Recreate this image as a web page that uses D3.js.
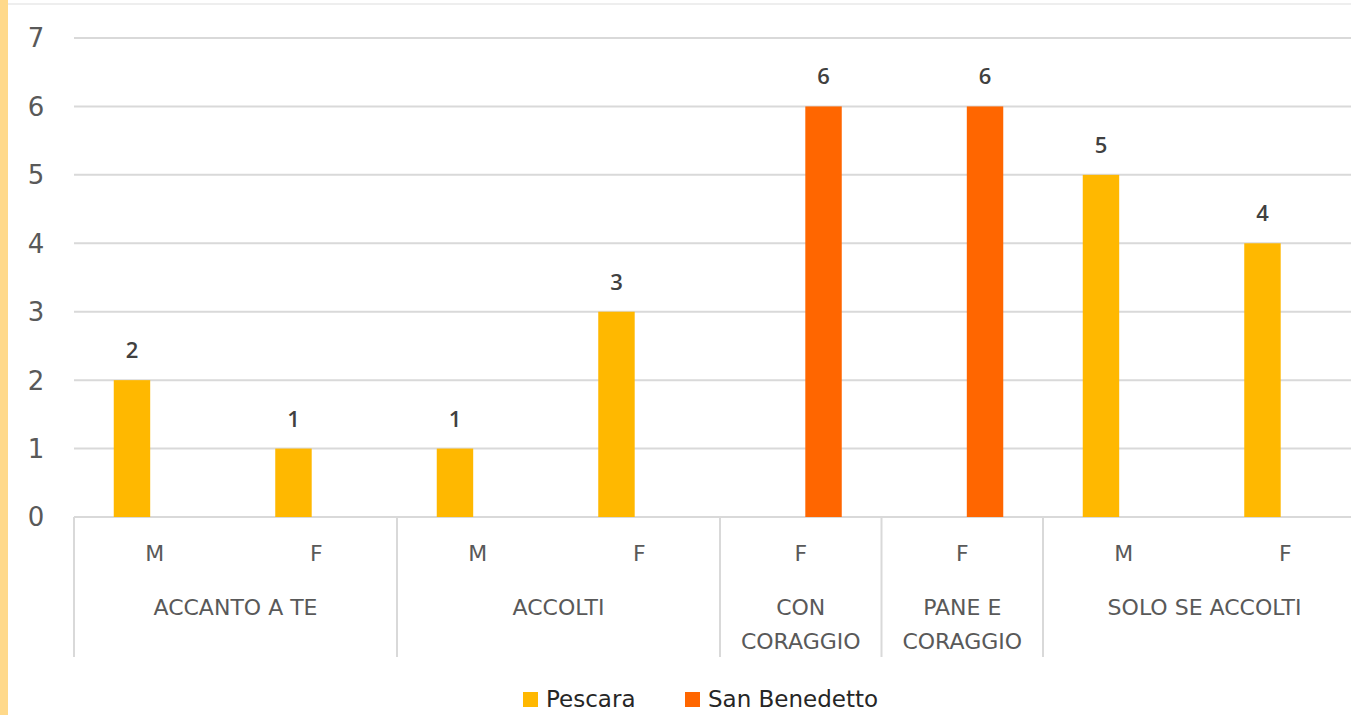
<!DOCTYPE html>
<html>
<head>
<meta charset="utf-8">
<script src="https://cdn.jsdelivr.net/npm/d3@7"></script>
<style>
  body { margin: 0; background: #fff; overflow: hidden; }
  svg { display: block; }
</style>
</head>
<body>
<script>
// data
const leafLabels = ["M", "F", "M", "F", "F", "F", "M", "F"];
const groups = [
  {name: ["ACCANTO A TE"], size: 2},
  {name: ["ACCOLTI"], size: 2},
  {name: ["CON", "CORAGGIO"], size: 1},
  {name: ["PANE E", "CORAGGIO"], size: 1},
  {name: ["SOLO SE ACCOLTI"], size: 2}
];
const seriesNames = ["Pescara", "San Benedetto"];
const pescara = [2, 1, 1, 3, 0, 0, 5, 4];
const sanBenedetto = [0, 0, 0, 0, 6, 6, 0, 0];
const yTicks = [0, 1, 2, 3, 4, 5, 6, 7];
const colors = ["#ffb800", "#ff6600"];

const W = 1351, H = 715;
const plot = {left: 74, right: 1366, top: 38, bottom: 517};

const svg = d3.select("body").append("svg")
  .attr("width", W)
  .attr("height", H);

// left accent strip and top border
svg.append("rect").attr("x", 0).attr("y", 0).attr("width", 8).attr("height", H).attr("fill", "#ffd98a");
svg.append("line").attr("x1", 8).attr("x2", W).attr("y1", 4).attr("y2", 4)
  .attr("stroke", "#eeeeee").attr("stroke-width", 2);

const x = d3.scaleBand()
  .domain(d3.range(leafLabels.length))
  .range([plot.left, plot.right])
  .padding(0);

const bw = x.bandwidth();
const xs = d3.scaleBand()
  .domain(seriesNames)
  .range([bw / 2 - 41, bw / 2 + 41])
  .paddingInner(0.2);

const y = d3.scaleLinear()
  .domain([0, 7])
  .range([plot.bottom, plot.top]);

// gridlines
svg.append("g").selectAll("line")
  .data(yTicks)
  .enter().append("line")
    .attr("x1", plot.left)
    .attr("x2", W)
    .attr("y1", d => y(d))
    .attr("y2", d => y(d))
    .attr("stroke", "#d9d9d9")
    .attr("stroke-width", 2);

// y labels
svg.append("g").selectAll("text")
  .data(yTicks)
  .enter().append("text")
    .attr("x", 36)
    .attr("y", d => y(d))
    .attr("dy", "0.36em")
    .attr("text-anchor", "middle")
    .attr("font-family", "DejaVu Sans")
    .attr("font-size", "26px")
    .attr("fill", "#595959")
    .text(d => d);

// bars
const seriesData = [pescara, sanBenedetto].map((vals, k) => ({
  key: seriesNames[k],
  color: colors[k],
  values: vals.map((v, i) => ({i: i, v: v}))
}));

const layer = svg.append("g").selectAll("g")
  .data(seriesData)
  .enter().append("g")
    .attr("fill", d => d.color);

layer.selectAll("rect")
  .data(d => d.values.filter(p => p.v > 0).map(p => Object.assign({key: d.key}, p)))
  .enter().append("rect")
    .attr("x", d => x(d.i) + xs(d.key))
    .attr("y", d => y(d.v))
    .attr("width", xs.bandwidth())
    .attr("height", d => y(0) - y(d.v));

layer.selectAll("text")
  .data(d => d.values.filter(p => p.v > 0).map(p => Object.assign({key: d.key}, p)))
  .enter().append("text")
    .attr("x", d => x(d.i) + xs(d.key) + xs.bandwidth() / 2)
    .attr("y", d => y(d.v) - 22)
    .attr("text-anchor", "middle")
    .attr("font-family", "Open Sans")
    .attr("font-weight", 600)
    .attr("font-size", "22px")
    .attr("fill", "#404040")
    .text(d => d.v);

// category axis: leaf labels
svg.append("g").selectAll("text")
  .data(leafLabels)
  .enter().append("text")
    .attr("x", (d, i) => x(i) + bw / 2)
    .attr("y", 561)
    .attr("text-anchor", "middle")
    .attr("font-family", "DejaVu Sans")
    .attr("font-size", "22px")
    .attr("fill", "#595959")
    .text(d => d);

// group labels and separators
let start = 0;
groups.forEach(g => {
  g.start = start;
  start += g.size;
});

const sepX = groups.map(g => x(g.start)).concat([plot.right]);
svg.append("g").selectAll("line")
  .data(sepX)
  .enter().append("line")
    .attr("x1", d => d)
    .attr("x2", d => d)
    .attr("y1", plot.bottom)
    .attr("y2", 657)
    .attr("stroke", "#d9d9d9")
    .attr("stroke-width", 2);

const groupText = svg.append("g").selectAll("text")
  .data(groups)
  .enter().append("text")
    .attr("x", g => x(g.start) + g.size * bw / 2)
    .attr("y", 615)
    .attr("text-anchor", "middle")
    .attr("font-family", "DejaVu Sans")
    .attr("font-size", "22px")
    .attr("fill", "#595959");

groupText.selectAll("tspan")
  .data(g => g.name.map(n => ({n: n, cx: x(g.start) + g.size * bw / 2})))
  .enter().append("tspan")
    .attr("x", d => d.cx)
    .attr("dy", (d, i) => i === 0 ? 0 : 34)
    .text(d => d.n);

// legend
const legendX = [523, 685];
const legend = svg.append("g").selectAll("g")
  .data(seriesNames)
  .enter().append("g")
    .attr("transform", (d, i) => `translate(${legendX[i]}, 0)`);

legend.append("rect")
  .attr("x", 0)
  .attr("y", 692)
  .attr("width", 15)
  .attr("height", 15)
  .attr("fill", (d, i) => colors[i]);

legend.append("text")
  .attr("x", 23)
  .attr("y", 707)
  .attr("font-family", "DejaVu Sans")
  .attr("font-size", "23px")
  .attr("fill", "#262626")
  .text(d => d);
</script>
</body>
</html>
